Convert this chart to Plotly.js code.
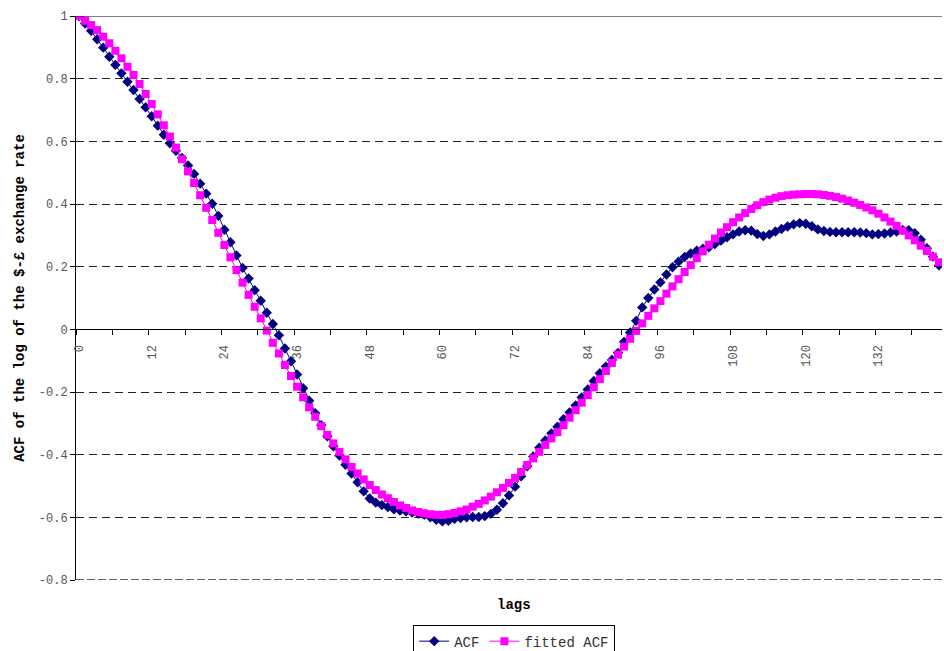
<!DOCTYPE html>
<html>
<head>
<meta charset="utf-8">
<script src="https://cdn.plot.ly/plotly-3.0.1.min.js"></script>
<style>
  html, body { margin: 0; padding: 0; background: #ffffff; }
  #chart { width: 944px; height: 651px; }
</style>
</head>
<body>
<div id="chart"></div>
<script>
// ---- data ----
const lags = [
  0,1,2,3,4,5,6,7,8,9,10,11,12,13,14,15,16,17,18,19,
  20,21,22,23,24,25,26,27,28,29,30,31,32,33,34,35,36,37,38,39,
  40,41,42,43,44,45,46,47,48,49,50,51,52,53,54,55,56,57,58,59,
  60,61,62,63,64,65,66,67,68,69,70,71,72,73,74,75,76,77,78,79,
  80,81,82,83,84,85,86,87,88,89,90,91,92,93,94,95,96,97,98,99,
  100,101,102,103,104,105,106,107,108,109,110,111,112,113,114,115,116,117,118,119,
  120,121,122,123,124,125,126,127,128,129,130,131,132,133,134,135,136,137,138,139,
  140,141,142
];

const acf = [
  1.000, 0.976, 0.953, 0.926, 0.899, 0.870, 0.844, 0.817, 0.790, 0.764,
  0.735, 0.709, 0.680, 0.650, 0.621, 0.594, 0.570, 0.547, 0.523, 0.496,
  0.465, 0.433, 0.401, 0.362, 0.318, 0.278, 0.236, 0.196, 0.162, 0.125,
  0.091, 0.053, 0.017, -0.019, -0.061, -0.102, -0.144, -0.188, -0.228, -0.268,
  -0.306, -0.341, -0.373, -0.403, -0.432, -0.460, -0.488, -0.517, -0.540, -0.553,
  -0.561, -0.567, -0.574, -0.578, -0.581, -0.585, -0.588, -0.592, -0.600, -0.608,
  -0.613, -0.611, -0.605, -0.602, -0.600, -0.599, -0.599, -0.596, -0.589, -0.576,
  -0.555, -0.530, -0.502, -0.469, -0.437, -0.406, -0.378, -0.355, -0.332, -0.311,
  -0.287, -0.265, -0.243, -0.217, -0.192, -0.165, -0.140, -0.119, -0.098, -0.075,
  -0.040, -0.010, 0.027, 0.070, 0.100, 0.127, 0.150, 0.175, 0.198, 0.216,
  0.231, 0.242, 0.251, 0.257, 0.262, 0.272, 0.283, 0.294, 0.303, 0.312,
  0.316, 0.315, 0.304, 0.298, 0.303, 0.312, 0.320, 0.328, 0.335, 0.339,
  0.337, 0.329, 0.319, 0.314, 0.311, 0.310, 0.310, 0.310, 0.310, 0.309,
  0.307, 0.303, 0.304, 0.306, 0.309, 0.312, 0.317, 0.316, 0.307, 0.286,
  0.259, 0.232, 0.204
];

const fittedAcf = [
  1.000, 0.985, 0.971, 0.955, 0.934, 0.913, 0.889, 0.865, 0.838, 0.812,
  0.783, 0.751, 0.719, 0.686, 0.651, 0.615, 0.580, 0.543, 0.504, 0.467,
  0.428, 0.388, 0.349, 0.308, 0.269, 0.230, 0.189, 0.149, 0.110, 0.072,
  0.035, -0.004, -0.043, -0.077, -0.114, -0.149, -0.183, -0.217, -0.249, -0.279,
  -0.309, -0.337, -0.364, -0.391, -0.415, -0.439, -0.460, -0.479, -0.497, -0.513,
  -0.527, -0.539, -0.551, -0.562, -0.570, -0.578, -0.583, -0.587, -0.590, -0.592,
  -0.592, -0.590, -0.586, -0.581, -0.575, -0.566, -0.557, -0.546, -0.534, -0.520,
  -0.506, -0.490, -0.474, -0.455, -0.433, -0.412, -0.391, -0.369, -0.348, -0.328,
  -0.306, -0.282, -0.258, -0.234, -0.210, -0.185, -0.159, -0.133, -0.107, -0.081,
  -0.055, -0.030, -0.005, 0.019, 0.043, 0.067, 0.090, 0.114, 0.137, 0.160,
  0.183, 0.205, 0.227, 0.249, 0.270, 0.290, 0.309, 0.326, 0.342, 0.357,
  0.371, 0.384, 0.396, 0.406, 0.414, 0.420, 0.425, 0.428, 0.430, 0.431,
  0.432, 0.432, 0.431, 0.429, 0.426, 0.422, 0.417, 0.411, 0.404, 0.397,
  0.389, 0.380, 0.369, 0.357, 0.344, 0.330, 0.315, 0.300, 0.284, 0.267,
  0.250, 0.232, 0.214
];

const xTickVals = [0, 12, 24, 36, 48, 60, 72, 84, 96, 108, 120, 132];
const xTickLabels = ['0', '12', '24', '36', '48', '60', '72', '84', '96', '108', '120', '132'];
const yTickVals = [-0.8, -0.6, -0.4, -0.2, 0, 0.2, 0.4, 0.6, 0.8, 1];
const yTickLabels = ['-0.8', '-0.6', '-0.4', '-0.2', '0', '0.2', '0.4', '0.6', '0.8', '1'];

const seriesNames = ['ACF', 'fitted ACF'];
const yTitle = 'ACF of the log of the $-£ exchange rate';
const xTitle = 'lags';

// ---- chart ----
const FONT = 'Liberation Mono, Courier New, monospace';
const yMin = -0.8, yMax = 1;

const traces = [
  {
    x: lags, y: acf, name: seriesNames[0],
    type: 'scatter', mode: 'lines+markers',
    line: { color: '#000080', width: 1 },
    marker: { symbol: 'diamond', size: 8, color: '#000080' }
  },
  {
    x: lags, y: fittedAcf, name: seriesNames[1],
    type: 'scatter', mode: 'lines+markers',
    line: { color: '#FF00FF', width: 1 },
    marker: { symbol: 'square', size: 8, color: '#FF00FF' }
  }
];

const layout = {
  width: 944, height: 651,
  margin: { l: 76, r: 2, t: 16, b: 71, pad: 0, autoexpand: false },
  paper_bgcolor: '#ffffff', plot_bgcolor: '#ffffff',
  font: { family: FONT, size: 12, color: '#555555' },
  showlegend: true,
  legend: {
    orientation: 'h', x: 0.506, xanchor: 'center', y: -0.079, yanchor: 'top',
    bordercolor: '#000000', borderwidth: 1, bgcolor: '#ffffff',
    font: { family: FONT, size: 14, color: '#333333' },
    itemwidth: 30, tracegroupgap: 0
  },
  xaxis: {
    range: [-0.5, lags.length - 0.5],
    anchor: 'free', position: (0 - yMin) / (yMax - yMin),
    showline: true, linecolor: '#000000', linewidth: 1,
    showgrid: false, zeroline: false,
    tickmode: 'array', tickvals: xTickVals, ticktext: xTickLabels,
    ticks: '', tickangle: -90,
    ticklabelstandoff: 10,
    tickfont: { family: FONT, size: 12, color: '#555555' },
    minor: { tick0: -0.5, dtick: 6, ticks: 'outside', ticklen: 5, tickcolor: '#000000', tickwidth: 1, showgrid: false }
  },
  yaxis: {
    range: [yMin, yMax],
    tickmode: 'array', tickvals: yTickVals, ticktext: yTickLabels,
    ticks: 'outside', ticklen: 5, tickcolor: '#000000',
    showline: true, linecolor: '#000000', linewidth: 1,
    showgrid: true, gridcolor: '#222222', gridwidth: 1, griddash: '8px,5px',
    zeroline: false,
    tickfont: { family: FONT, size: 12, color: '#555555' },
    title: { text: '<b>' + yTitle + '</b>', font: { family: FONT, size: 14, color: '#000000' }, standoff: 10 }
  },
  shapes: [
    { type: 'line', xref: 'paper', yref: 'y', x0: 0, x1: 1, y0: yMax, y1: yMax,
      line: { color: '#000000', width: 1 } },
    { type: 'line', xref: 'paper', yref: 'y', x0: 0, x1: 1, y0: yMin, y1: yMin,
      line: { color: '#666666', width: 2, dash: '8px,3px' } }
  ],
  annotations: [
    { text: '<b>' + xTitle + '</b>', xref: 'paper', yref: 'paper', x: 0.506, y: -0.044,
      xanchor: 'center', yanchor: 'middle', showarrow: false,
      font: { family: FONT, size: 14, color: '#000000' } }
  ]
};

Plotly.newPlot('chart', traces, layout, { displayModeBar: false, staticPlot: true });
</script>
</body>
</html>
